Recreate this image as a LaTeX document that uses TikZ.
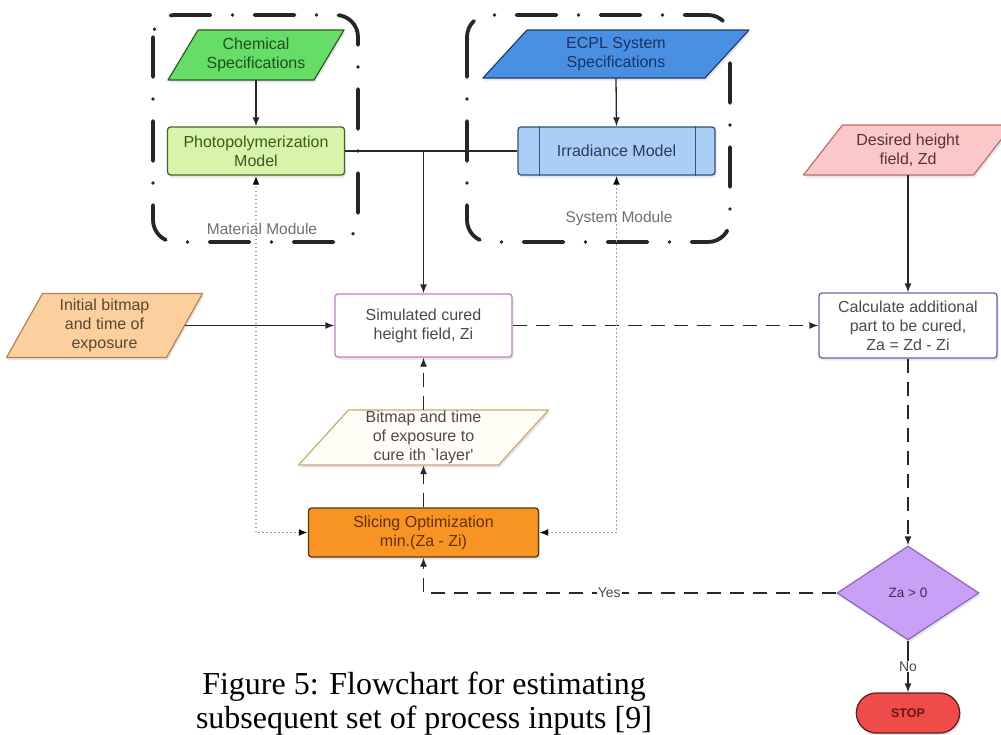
\documentclass[tikz,border=0pt]{standalone}
\usepackage{fontspec}
\setmainfont{Liberation Serif}
\newfontfamily\diagfont{Liberation Sans}
\usetikzlibrary{shapes.geometric,shapes.misc,arrows.meta,shadows,calc}
\definecolor{chemF}{RGB}{102,221,102}\definecolor{chemD}{RGB}{40,90,40}\definecolor{chemT}{RGB}{30,80,30}
\definecolor{photoF}{RGB}{214,244,170}\definecolor{photoD}{RGB}{70,100,40}\definecolor{photoT}{RGB}{60,90,30}
\definecolor{ecplF}{RGB}{74,144,226}\definecolor{ecplD}{RGB}{30,60,110}\definecolor{ecplT}{RGB}{25,50,100}
\definecolor{irrF}{RGB}{170,206,245}\definecolor{irrD}{RGB}{50,80,120}\definecolor{irrT}{RGB}{40,60,90}
\definecolor{desF}{RGB}{250,200,200}\definecolor{desD}{RGB}{190,110,110}\definecolor{desT}{RGB}{90,50,50}
\definecolor{initF}{RGB}{251,208,158}\definecolor{initD}{RGB}{180,130,80}\definecolor{initT}{RGB}{90,70,50}
\definecolor{simD}{RGB}{200,120,210}\definecolor{calcD}{RGB}{120,90,170}
\definecolor{bmF}{RGB}{255,253,246}\definecolor{bmD}{RGB}{200,170,110}
\definecolor{slF}{RGB}{247,148,35}\definecolor{slD}{RGB}{90,55,20}\definecolor{slT}{RGB}{100,50,10}
\definecolor{diaF}{RGB}{200,160,245}\definecolor{diaD}{RGB}{140,100,190}\definecolor{diaT}{RGB}{60,40,90}
\definecolor{stopF}{RGB}{240,75,75}\definecolor{stopD}{RGB}{100,30,30}\definecolor{stopT}{RGB}{110,20,20}
\definecolor{txt}{RGB}{75,75,75}\definecolor{linec}{RGB}{40,40,40}
% parallelogram: cx, cy, half mid width, half height, half slant, fill, draw
\newcommand{\myPara}[7]{%
  \filldraw[fill=#6, draw=#7, line width=1.2pt, line join=round,
    drop shadow={opacity=0.2, shadow xshift=1.5pt, shadow yshift=-2.5pt}]
    ({#1-#3-#5},{#2+#4}) -- ({#1-#3+#5},{#2-#4}) -- ({#1+#3+#5},{#2-#4}) -- ({#1+#3-#5},{#2+#4}) -- cycle;}
\begin{document}
\begin{tikzpicture}[x=1pt,y=-1pt,
  shad/.style={drop shadow={opacity=0.2, shadow xshift=1.5pt, shadow yshift=-2.5pt}},
  box/.style={rectangle, rounded corners=3pt, line width=1.3pt, align=center,
    font=\diagfont\fontsize{16}{19}\selectfont, text=txt, inner sep=2pt, shad},
  lbl/.style={rectangle, align=center, font=\diagfont\fontsize{16}{19}\selectfont, text=txt, inner sep=0pt},
  modlbl/.style={font=\diagfont\fontsize{15.5}{18}\selectfont, text=txt!80, inner sep=0pt},
  plain/.style={line width=1.3pt, draw=linec},
  arr/.style={plain, -{Latex[length=9pt,width=7pt]}},
  dsh/.style={arr, dash pattern=on 14pt off 9pt},
  dotl/.style={line width=1.6pt, draw=gray!75, dash pattern=on 1.5pt off 2.5pt,
    {Latex[length=9pt,width=7pt,gray!10!black]}-{Latex[length=9pt,width=7pt,gray!10!black]}},
  module/.style={draw=black!85, line width=3.8pt, rounded corners=22pt,
    dash pattern=on 40pt off 22pt on 0pt off 22pt, line cap=round},
  captxt/.style={font=\fontsize{32}{36}\selectfont, inner sep=0pt, anchor=base}
]
\useasboundingbox (0,0) rectangle (1001,734);

% module frames
\draw[module] (153,15) rectangle (358,242);
\draw[module] (467,15) rectangle (730,242);

% parallelogram shapes
\myPara{256}{55}{73}{25}{15}{chemF}{chemD}
\myPara{616}{54}{111}{24}{22}{ecplF}{ecplD}
\myPara{908}{150}{85}{25}{19.5}{desF}{desD}
\myPara{104.5}{325.5}{80}{32}{18}{initF}{initD}
\myPara{423.5}{437.5}{100}{27.5}{25}{bmF}{bmD}

% nodes
\node[lbl, text=chemT, minimum width=146pt, minimum height=50pt] (chem) at (256,55) {Chemical\\Specifications};
\node[lbl, text=ecplT, minimum width=222pt, minimum height=48pt] (ecpl) at (616,54) {ECPL System\\Specifications};
\node[lbl, text=desT, minimum width=170pt, minimum height=50pt] (des) at (908,150) {Desired height\\field, Zd};
\node[lbl, text=initT, minimum width=160pt, minimum height=64pt] (init) at (104.5,325.5) {Initial bitmap\\and time of\\exposure};
\node[lbl, minimum width=200pt, minimum height=55pt] (bm) at (423.5,437.5) {Bitmap and time\\of exposure to\\cure ith `layer'};

\node[box, fill=photoF, draw=photoD, text=photoT, minimum width=177pt, minimum height=48pt] (photo) at (256,151) {Photopolymerization\\Model};
\node[box, fill=irrF, draw=irrD, text=irrT, minimum width=197pt, minimum height=48pt] (irr) at (616.5,151) {Irradiance Model};
\draw[irrD, line width=1.2pt] ([xshift=22pt]irr.north west) -- ([xshift=22pt]irr.south west);
\draw[irrD, line width=1.2pt] ([xshift=-20pt]irr.north east) -- ([xshift=-20pt]irr.south east);

\node[box, fill=white, draw=simD, minimum width=177pt, minimum height=63pt] (sim) at (423.5,325.5) {Simulated cured\\height field, Zi};
\node[box, fill=white, draw=calcD, minimum width=178pt, minimum height=65pt] (calc) at (908,325.5) {Calculate additional\\part to be cured,\\Za = Zd - Zi};
\node[box, fill=slF, draw=slD, text=slT, minimum width=230pt, minimum height=49pt] (slice) at (423.5,532.5) {Slicing Optimization\\min.(Za - Zi)};
\node[diamond, shad, fill=diaF, draw=diaD, line width=1.2pt, text=diaT, inner sep=0pt,
  minimum width=142pt, minimum height=94pt, font=\diagfont\fontsize{13.5}{15}\selectfont] (dia) at (908,593) {Za > 0};
\node[rounded rectangle, shad, fill=stopF, draw=stopD, line width=1.3pt, text=stopT,
  minimum width=110pt, minimum height=40pt, font=\diagfont\bfseries\fontsize{12.5}{14}\selectfont] (stop) at (908,713) {STOP};

% module labels
\node[modlbl] (matlbl) at (262,229) {Material Module};
\node[modlbl] (syslbl) at (619,218) {System Module};

% connectors
\draw[arr] (chem.south) -- (photo.north);
\draw[arr] (ecpl.south) -- (irr.north);
\coordinate (J) at (sim.north |- photo.east);
\draw[plain] (photo.east) -- (J);
\draw[plain] (irr.west) -- (J);
\draw[arr] (J) -- (sim.north);
\draw[arr] (init.east) -- (sim.west);
\draw[dsh] (sim.east) -- (calc.west);
\draw[arr] (des.south) -- (calc.north);
\draw[dsh] (calc.south) -- (dia.north);
\draw[arr] (dia.south) -- node[fill=white, inner sep=1pt, text=txt, font=\diagfont\fontsize{14}{16}\selectfont] (nolbl) {No} (stop.north);
\draw[dsh] (dia.west) -| node[pos=0.275, fill=white, inner sep=1pt, text=txt, font=\diagfont\fontsize{14}{16}\selectfont] (yeslbl) {Yes} (slice.south);
\draw[dsh] (slice.north) -- (bm.south);
\draw[dsh] (bm.north) -- (sim.south);
\draw[dotl] (slice.west) -| (photo.south);
\draw[dotl] (slice.east) -| (irr.south);

% caption
\node[captxt] (cap1) at (424,694) {Figure 5: Flowchart for estimating};
\node[captxt] (cap2) at (424,728) {subsequent set of process inputs [9]};
\end{tikzpicture}
\end{document}
